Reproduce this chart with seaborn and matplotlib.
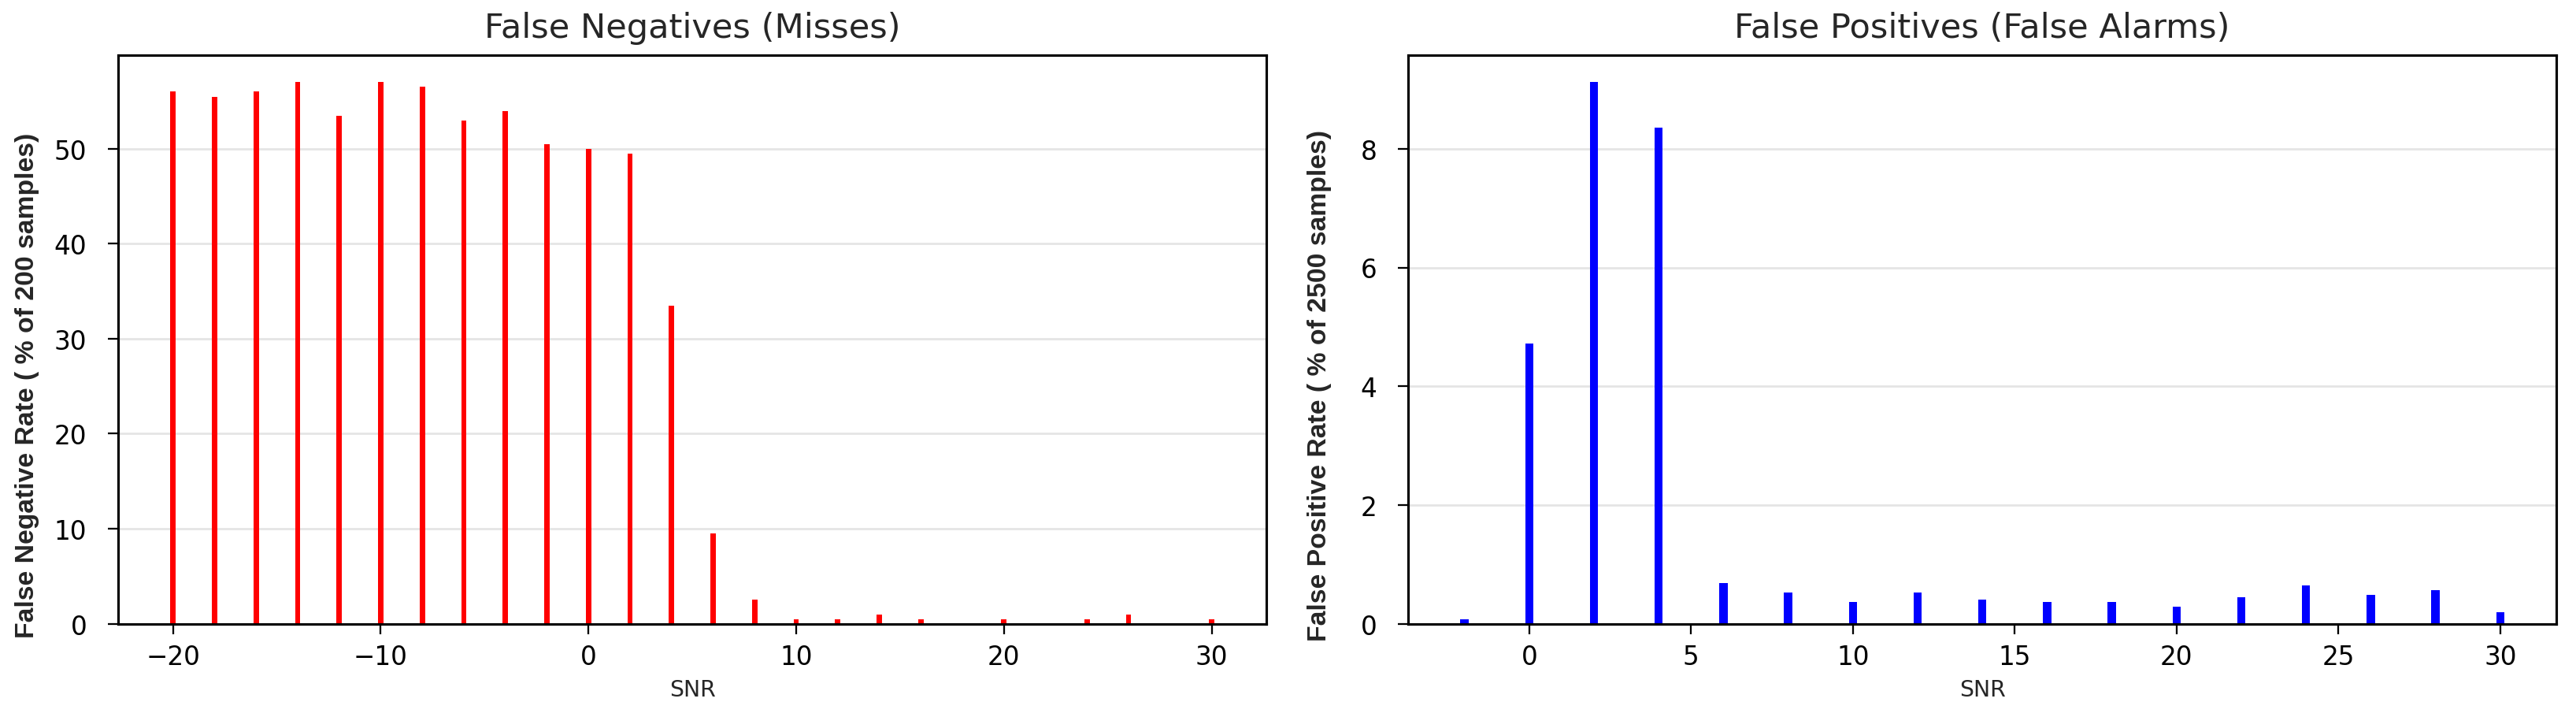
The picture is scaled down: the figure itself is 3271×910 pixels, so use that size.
import numpy as np
import pandas as pd
import seaborn as sns
import matplotlib.pyplot as plt

# SNR levels and error rates
fn_snr = [-20, -18, -16, -14, -12, -10, -8, -6, -4, -2, 0, 2, 4, 6, 8, 10, 12, 14, 16, 18, 20, 22, 24, 26, 28, 30]
fn_rate = [56.0, 55.5, 56.0, 57.0, 53.5, 57.0, 56.5, 53.0, 54.0, 50.5, 50.0, 49.5, 33.5, 9.5, 2.5,
           0.5, 0.5, 1.0, 0.5, 0.0, 0.5, 0.0, 0.5, 1.0, 0.0, 0.5]

fp_snr = [-2, 0, 2, 4, 6, 8, 10, 12, 14, 16, 18, 20, 22, 24, 26, 28, 30]
fp_rate = [0.08, 4.72, 9.12, 8.36, 0.68, 0.52, 0.36, 0.52, 0.40, 0.36, 0.36, 0.28, 0.44, 0.64, 0.48, 0.56, 0.20]

fn_df = pd.DataFrame({'SNR': fn_snr, 'rate': fn_rate})
fp_df = pd.DataFrame({'SNR': fp_snr, 'rate': fp_rate})

sns.set_style('ticks')
plt.rcParams['font.family'] = ['DejaVu Sans']

fig, ax = plt.subplots(1, 2, figsize=(16, 4.456))
fig.subplots_adjust(left=0.0459, right=0.9924, top=0.922, bottom=0.13, wspace=0.1235)

sns.barplot(x='SNR', y='rate', data=fn_df, native_scale=True, width=0.125,
            color='red', saturation=1, linewidth=0, ax=ax[0])
sns.barplot(x='SNR', y='rate', data=fp_df, native_scale=True, width=0.125,
            color='blue', saturation=1, linewidth=0, ax=ax[1])

titles = ['False Negatives (Misses)', 'False Positives (False Alarms)']
ylabels = ['False Negative Rate ( % of 200 samples)', 'False Positive Rate ( % of 2500 samples)']
label_x = [-0.0685, -0.0666]
for a, t, yl, lx in zip(ax, titles, ylabels, label_x):
    a.set_title(t, fontsize=15.2, pad=8)
    a.set_xlabel('SNR', fontsize=10, labelpad=4)
    a.set_ylabel(yl, fontsize=11.9, fontweight='bold', family='Liberation Sans')
    a.yaxis.set_label_coords(lx, 0.42)
    a.tick_params(labelsize=11.5, colors='black', length=4.5)
    a.tick_params(axis='x', pad=4.5)
    a.tick_params(axis='y', pad=9.5)
    a.yaxis.grid(True, color='#e5e5e5', linewidth=1)
    a.set_axisbelow(True)
    for s in a.spines.values():
        s.set_visible(True)
        s.set_color('black')
        s.set_linewidth(1.1)

ax[1].set_xticks([0, 5, 10, 15, 20, 25, 30])

plt.savefig('out.png', dpi=204.44)
